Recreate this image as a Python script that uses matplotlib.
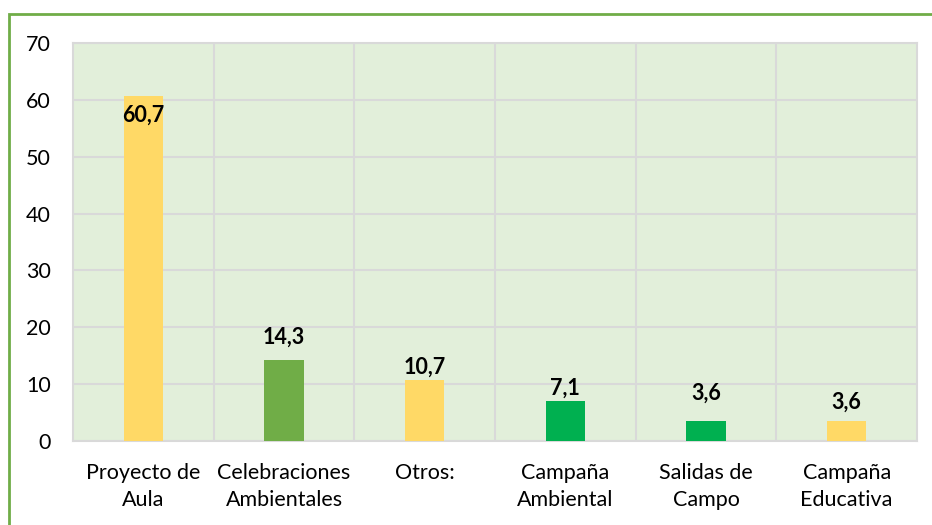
import matplotlib
matplotlib.use("Agg")
import matplotlib.pyplot as plt
from matplotlib.patches import Rectangle

categories = ["Proyecto de\nAula", "Celebraciones\nAmbientales", "Otros:", "Campaña\nAmbiental", "Salidas de\nCampo", "Campaña\nEducativa"]
values = [60.7, 14.3, 10.7, 7.1, 3.6, 3.6]
labels = ["60,7", "14,3", "10,7", "7,1", "3,6", "3,6"]
colors = ["#FFD966", "#70AD47", "#FFD966", "#00B050", "#00B050", "#FFD966"]
label_offsets = [-3.4, 4.0, 2.3, 2.2, 4.8, 3.3]
yticks = [0, 10, 20, 30, 40, 50, 60, 70]

plt.rcParams['font.family'] = ['Lato', 'DejaVu Sans']

fig = plt.figure(figsize=(9.32, 5.25), dpi=100)
W, H = 932, 525
ax = fig.add_axes([73 / W, 1 - 441 / H, (917 - 73) / W, (441 - 43) / H])
ax.set_facecolor("#E2EFDA")

x = list(range(len(categories)))
ax.bar(x, values, width=0.28, color=colors, zorder=3)
for xi, v, lab, off in zip(x, values, labels, label_offsets):
    ax.text(xi, v + off, lab, ha="center", va="center", fontsize=15.5, fontweight="bold", zorder=4)

ax.set_xlim(-0.5, len(categories) - 0.5)
ax.set_ylim(0, 70)
ax.set_yticks(yticks)
ax.set_yticklabels([str(t) for t in yticks], fontsize=15.5)
ax.set_xticks(x)
ax.set_xticklabels(categories, fontsize=15.5, linespacing=1.45)
ax.set_xticks([i + 0.5 for i in range(len(categories) - 1)], minor=True)
ax.tick_params(axis="y", length=0, pad=16)
ax.tick_params(axis="x", which="minor", length=0)
ax.tick_params(axis="x", length=0, pad=16)
ax.grid(axis="y", color="#D9D9D9", linewidth=1.5, zorder=1)
ax.grid(axis="x", which="minor", color="#D9D9D9", linewidth=1.5, zorder=1)
for s in ax.spines.values():
    s.set_color("#D9D9D9")
    s.set_linewidth(1.5)

# outer green border (chart area)
fig.add_artist(Rectangle((9 / W, -0.05), 1.2, 1 - 14 / H + 0.05, transform=fig.transFigure,
                         fill=False, edgecolor="#70AD47", linewidth=2))

fig.savefig("out.png", dpi=100)
